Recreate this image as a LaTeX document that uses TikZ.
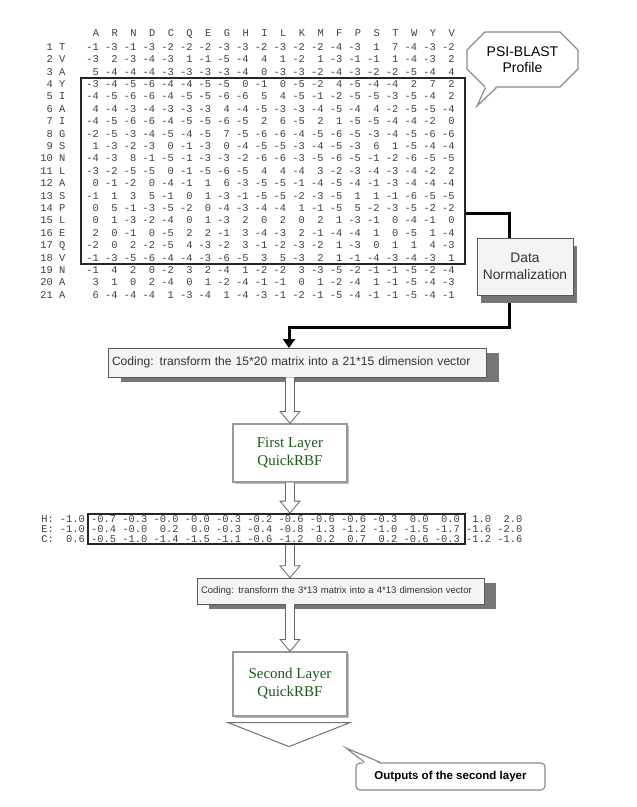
\documentclass[tikz,border=0pt]{standalone}
\usepackage{fontspec}
\setmainfont{Liberation Sans}
\setmonofont{Liberation Mono}
\newfontfamily\rbfserif{Liberation Serif}
\usetikzlibrary{arrows.meta,shadows,shapes.misc}
\definecolor{rbfgreen}{RGB}{28,90,28}
\definecolor{boxfill}{RGB}{244,244,244}
\definecolor{shade}{RGB}{118,118,118}
\tikzstyle{num}=[font=\ttfamily\fontsize{10.4}{10.4}\selectfont,text=black!75,inner sep=0pt,anchor=base east]
\tikzstyle{hdr}=[num,anchor=base]
\tikzstyle{stepbox}=[draw=black!65,fill=boxfill,thin,inner sep=4pt,text=black!80]
\tikzstyle{layer}=[draw=black!40,fill=white,line width=1.2pt,minimum width=114pt,align=center,font=\rbfserif\fontsize{15}{18}\selectfont,text=rbfgreen,drop shadow={shadow xshift=2pt,shadow yshift=-2pt,fill=black!25,opacity=1}]
\tikzstyle{bubble}=[draw=black!45,fill=white,line width=1.2pt,align=center]
\tikzstyle{link}=[line width=3pt,draw=black]
\tikzstyle{hollow}=[draw=black!60,fill=white,line width=0.8pt,line join=miter]
% hollow block arrow from #1 down to the tip #2
\newcommand{\hollowarrow}[2]{%
  \draw[hollow] ([xshift=-4.5pt]#1) -- ([xshift=-4.5pt,yshift=12pt]#2) -- ([xshift=-10pt,yshift=12pt]#2)
    -- (#2) -- ([xshift=10pt,yshift=12pt]#2) -- ([xshift=4.5pt,yshift=12pt]#2) -- ([xshift=4.5pt]#1);}

\begin{document}
\begin{tikzpicture}[x=1pt,y=-1pt]
  \useasboundingbox (0,0) rectangle (637,807);
  % profile matrix
  \foreach \a [count=\c] in {A,R,N,D,C,Q,E,G,H,I,L,K,M,F,P,S,T,W,Y,V}
    \node[hdr] (h\c) at ({96+(\c-1)*18.72},36.7) {\a};
  \foreach \i/\res/\vals in {
      1/T/{-1,-3,-1,-3,-2,-2,-2,-3,-3,-2,-3,-2,-2,-4,-3,1,7,-4,-3,-2},
      2/V/{-3,2,-3,-4,-3,1,-1,-5,-4,4,1,-2,1,-3,-1,-1,1,-4,-3,2},
      3/A/{5,-4,-4,-4,-3,-3,-3,-3,-4,0,-3,-3,-2,-4,-3,-2,-2,-5,-4,4},
      4/Y/{-3,-4,-5,-6,-4,-4,-5,-5,0,-1,0,-5,-2,4,-5,-4,-4,2,7,2},
      5/I/{-4,-5,-6,-6,-4,-5,-5,-6,-6,5,4,-5,-1,-2,-5,-5,-3,-5,-4,2},
      6/A/{4,-4,-3,-4,-3,-3,-3,4,-4,-5,-3,-3,-4,-5,-4,4,-2,-5,-5,-4},
      7/I/{-4,-5,-6,-6,-4,-5,-5,-6,-5,2,6,-5,2,1,-5,-5,-4,-4,-2,0},
      8/G/{-2,-5,-3,-4,-5,-4,-5,7,-5,-6,-6,-4,-5,-6,-5,-3,-4,-5,-6,-6},
      9/S/{1,-3,-2,-3,0,-1,-3,0,-4,-5,-5,-3,-4,-5,-3,6,1,-5,-4,-4},
      10/N/{-4,-3,8,-1,-5,-1,-3,-3,-2,-6,-6,-3,-5,-6,-5,-1,-2,-6,-5,-5},
      11/L/{-3,-2,-5,-5,0,-1,-5,-6,-5,4,4,-4,3,-2,-3,-4,-3,-4,-2,2},
      12/A/{0,-1,-2,0,-4,-1,1,6,-3,-5,-5,-1,-4,-5,-4,-1,-3,-4,-4,-4},
      13/S/{-1,1,3,5,-1,0,1,-3,-1,-5,-5,-2,-3,-5,1,1,-1,-6,-5,-5},
      14/P/{0,5,-1,-3,-5,-2,0,-4,-3,-4,-4,1,-1,-5,5,-2,-3,-5,-2,-2},
      15/L/{0,1,-3,-2,-4,0,1,-3,2,0,2,0,2,1,-3,-1,0,-4,-1,0},
      16/E/{2,0,-1,0,-5,2,2,-1,3,-4,-3,2,-1,-4,-4,1,0,-5,1,-4},
      17/Q/{-2,0,2,-2,-5,4,-3,-2,3,-1,-2,-3,-2,1,-3,0,1,1,4,-3},
      18/V/{-1,-3,-5,-6,-4,-4,-3,-6,-5,3,5,-3,2,1,-1,-4,-3,-4,-3,1},
      19/N/{-1,4,2,0,-2,3,2,-4,1,-2,-2,3,-3,-5,-2,-1,-1,-5,-2,-4},
      20/A/{3,1,0,2,-4,0,1,-2,-4,-1,-1,0,1,-2,-4,1,-1,-5,-4,-3},
      21/A/{6,-4,-4,-4,1,-3,-4,1,-4,-3,-1,-2,-1,-5,-4,-1,-1,-5,-4,-1}} {
    \node[num] (lab\i) at (65.6,{50.2+(\i-1)*12.4}) {\i\ \res};
    \foreach \v [count=\c] in \vals
      \node[num] (v\i-\c) at ({99.1+(\c-1)*18.72},{50.2+(\i-1)*12.4}) {\v};
  }
  \node[draw=black!85,line width=1.6pt,minimum width=384.3pt,minimum height=186.3pt] (pssm) at (272.85,170.85) {};

  \node[bubble,chamfered rectangle,chamfered rectangle xsep=9pt,chamfered rectangle ysep=9pt,
        minimum width=111pt,minimum height=55pt,inner sep=2pt,font=\fontsize{14}{16.5}\selectfont] (psi) at (522.5,59.5) {PSI-BLAST\\Profile};
  \coordinate (psitip) at (477,106);
  \fill[white] ([xshift=-37pt,yshift=2pt]psi.south) -- (psitip) -- ([xshift=-26pt,yshift=2pt]psi.south) -- cycle;
  \draw[draw=black!45,line width=1.2pt] ([xshift=-37pt]psi.south) -- (psitip) -- ([xshift=-26pt]psi.south);

  % normalisation and first coding
  \node[stepbox,drop shadow={shadow xshift=4pt,shadow yshift=-8pt,fill=shade,opacity=1},
        minimum width=96.6pt,minimum height=57pt,align=center,font=\fontsize{13.8}{17}\selectfont] (norm) at (525,266.5) {Data\\Normalization};
  \node[stepbox,drop shadow={shadow xshift=13pt,shadow yshift=-5pt,fill=shade,opacity=1},
        minimum height=29pt,text width=370pt,align=left,font=\fontsize{12.1}{14}\selectfont] (code1) at (297,362.7) {Coding: transform the 15*20 matrix into a 21*15 dimension vector};
  \coordinate (turn) at (289,327);
  \draw[link] ([yshift=-42.4pt]pssm.east) -| ([xshift=-16pt]norm.north);
  \draw[link,-{Triangle[length=9pt,width=12pt]}] ([xshift=-16pt,yshift=-8pt]norm.south) |- (turn) -- (turn |- code1.north);

  \node[layer,minimum height=58pt] (layer1) at (290,453) {First Layer\\QuickRBF};
  \hollowarrow{layer1.north |- code1.south}{layer1.north}

  % second matrix
  \foreach \r/\vals [count=\k] in {
      H/{-1.0,-0.7,-0.3,-0.0,-0.0,-0.3,-0.2,-0.6,-0.6,-0.6,-0.3,0.0,0.0,1.0,2.0},
      E/{-1.0,-0.4,-0.0,0.2,0.0,-0.3,-0.4,-0.8,-1.3,-1.2,-1.0,-1.5,-1.7,-1.6,-2.0},
      C/{0.6,-0.5,-1.0,-1.4,-1.5,-1.1,-0.6,-1.2,0.2,0.7,0.2,-0.6,-0.3,-1.2,-1.6}} {
    \node[num,anchor=base west] (ss\k) at (41.3,{522.5+(\k-1)*10.15}) {\r:};
    \foreach \v [count=\c] in \vals
      \node[num] (s\k-\c) at ({85+(\c-1)*31.26},{522.5+(\k-1)*10.15}) {\v};
  }
  \node[draw=black!85,line width=1.8pt,minimum width=377.3pt,minimum height=30.3pt] (hec) at (276.35,529.15) {};
  \hollowarrow{layer1.south}{layer1.south |- hec.north}

  % second coding and layer
  \node[stepbox,drop shadow={shadow xshift=12pt,shadow yshift=-5pt,fill=shade,opacity=1},
        minimum height=26pt,text width=279pt,align=left,font=\fontsize{9.5}{11}\selectfont] (code2) at (340.5,591) {Coding: transform the 3*13 matrix into a 4*13 dimension vector};
  \hollowarrow{layer1.south |- hec.south}{layer1.south |- code2.north}

  \node[layer,minimum height=64pt] (layer2) at (290,684) {Second Layer\\QuickRBF};
  \hollowarrow{layer2.north |- code2.south}{layer2.north}

  \draw[hollow,draw=black!55,line width=1pt] ([xshift=-62pt,yshift=-6pt]layer2.south) -- ([xshift=60pt,yshift=-6pt]layer2.south) -- ([xshift=-1pt,yshift=-30pt]layer2.south) -- cycle;

  \node[bubble,rounded corners=4pt,minimum width=189pt,minimum height=27pt,
        font=\bfseries\fontsize{11.5}{13}\selectfont] (out) at (450.5,776.5) {Outputs of the second layer};
  \coordinate (outtip) at (346,748);
  \fill[white] ([xshift=-86pt,yshift=-2pt]out.north) -- (outtip) -- ([xshift=-70pt,yshift=-2pt]out.north) -- cycle;
  \draw[draw=black!45,line width=1.2pt] ([xshift=-86pt]out.north) -- (outtip) -- ([xshift=-70pt]out.north);
\end{tikzpicture}
\end{document}
